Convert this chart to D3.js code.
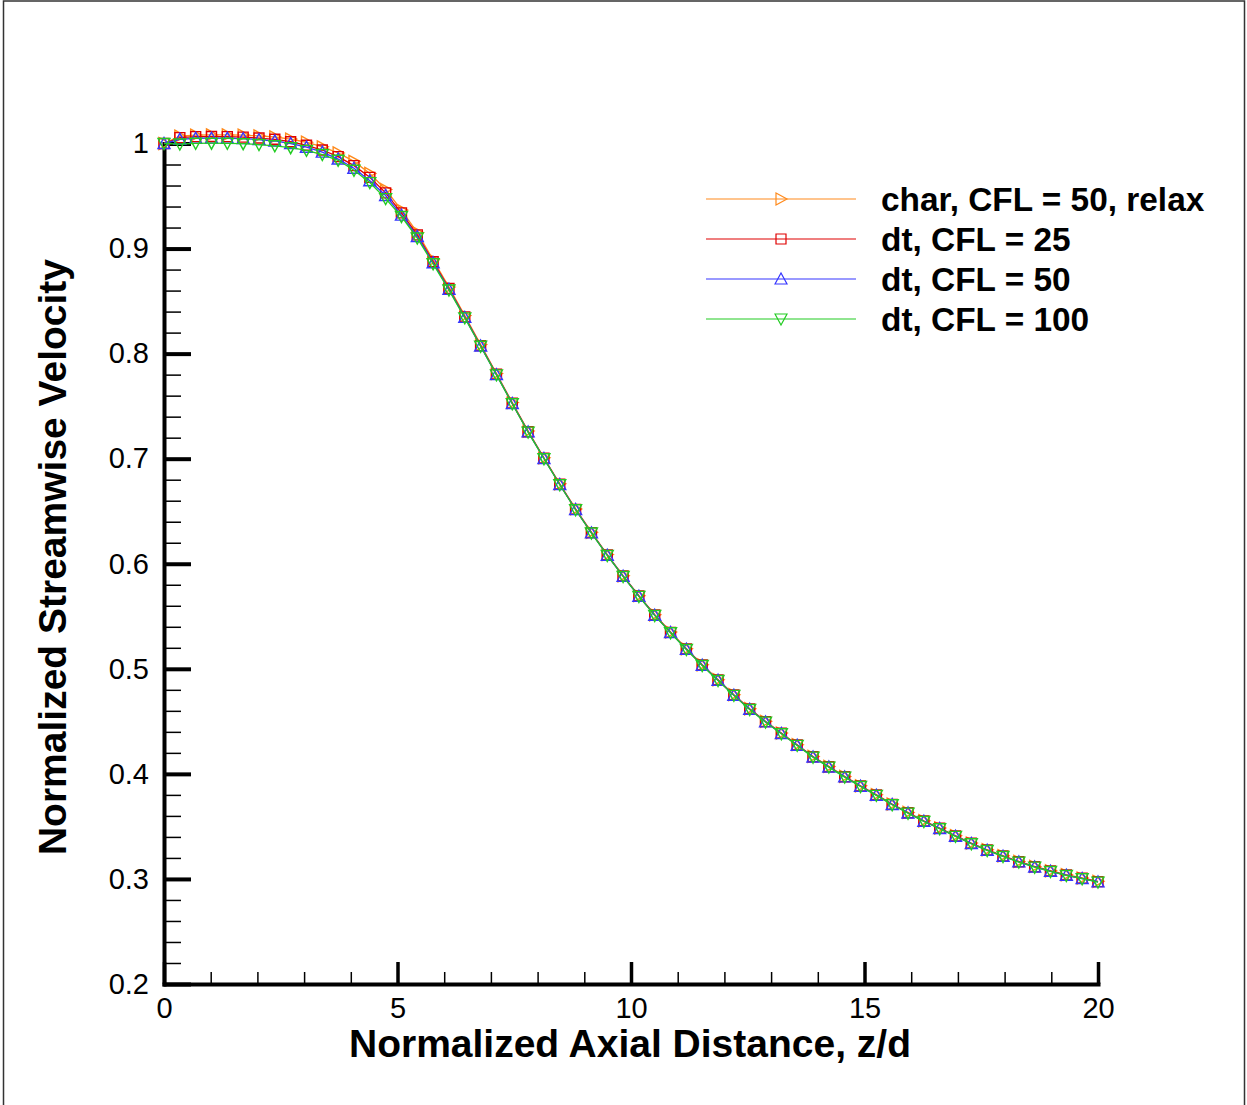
<!DOCTYPE html>
<html lang="en">
<head>
	<meta charset="UTF-8">
	<title>Normalized Streamwise Velocity</title>
	<script src="https://cdn.jsdelivr.net/npm/d3@7/dist/d3.min.js"></script>
	<style>
		body { margin:0; background:#fff; }
		svg { display:block; font-family:"Liberation Sans", Arial, Helvetica, sans-serif; }
	</style>
</head>
<body>
	<svg width="1247" height="1105"></svg>
	<script>
	// data
	var zValues = [0, 0.339, 0.678, 1.017, 1.356, 1.695, 2.034, 2.373, 2.712, 3.051,
		3.390, 3.729, 4.068, 4.407, 4.746, 5.085, 5.424, 5.763, 6.102, 6.441,
		6.780, 7.119, 7.458, 7.797, 8.136, 8.475, 8.814, 9.153, 9.492, 9.831,
		10.169, 10.508, 10.847, 11.186, 11.525, 11.864, 12.203, 12.542, 12.881, 13.220,
		13.559, 13.898, 14.237, 14.576, 14.915, 15.254, 15.593, 15.932, 16.271, 16.610,
		16.949, 17.288, 17.627, 17.966, 18.305, 18.644, 18.983, 19.322, 19.661, 20];

	var velChar50 = [1.0000, 1.0070, 1.0080, 1.0082, 1.0082, 1.0080, 1.0072, 1.0062, 1.0042, 1.0012,
		0.9968, 0.9910, 0.9830, 0.9715, 0.9562, 0.9366, 0.9152, 0.8893, 0.8634, 0.8362,
		0.8086, 0.7811, 0.7534, 0.7263, 0.7009, 0.6761, 0.6522, 0.6300, 0.6087, 0.5886,
		0.5696, 0.5515, 0.5350, 0.5191, 0.5039, 0.4896, 0.4754, 0.4620, 0.4500, 0.4389,
		0.4278, 0.4166, 0.4071, 0.3976, 0.3887, 0.3802, 0.3713, 0.3633, 0.3554, 0.3485,
		0.3412, 0.3342, 0.3278, 0.3221, 0.3167, 0.3119, 0.3078, 0.3040, 0.3009, 0.2977];

	var velDt25 = [1.0000, 1.0056, 1.0065, 1.0066, 1.0065, 1.0061, 1.0052, 1.0040, 1.0017, 0.9983,
		0.9938, 0.9875, 0.9789, 0.9678, 0.9530, 0.9340, 0.9130, 0.8875, 0.8620, 0.8350,
		0.8076, 0.7803, 0.7527, 0.7257, 0.7004, 0.6756, 0.6518, 0.6296, 0.6083, 0.5883,
		0.5693, 0.5512, 0.5347, 0.5188, 0.5036, 0.4893, 0.4751, 0.4617, 0.4497, 0.4386,
		0.4275, 0.4163, 0.4068, 0.3973, 0.3884, 0.3799, 0.3710, 0.3630, 0.3551, 0.3482,
		0.3409, 0.3339, 0.3275, 0.3218, 0.3164, 0.3116, 0.3075, 0.3037, 0.3006, 0.2974];

	var velDt50 = [1.0000, 1.0040, 1.0050, 1.0051, 1.0050, 1.0046, 1.0037, 1.0024, 1.0000, 0.9965,
		0.9918, 0.9852, 0.9765, 0.9645, 0.9505, 0.9318, 0.9115, 0.8865, 0.8612, 0.8345,
		0.8072, 0.7800, 0.7525, 0.7255, 0.7002, 0.6754, 0.6516, 0.6294, 0.6081, 0.5881,
		0.5691, 0.5510, 0.5345, 0.5186, 0.5034, 0.4891, 0.4749, 0.4615, 0.4495, 0.4384,
		0.4273, 0.4161, 0.4066, 0.3971, 0.3882, 0.3797, 0.3708, 0.3628, 0.3549, 0.3480,
		0.3407, 0.3337, 0.3273, 0.3216, 0.3162, 0.3114, 0.3073, 0.3035, 0.3004, 0.2972];

	var velDt100 = [1.0000, 0.9995, 1.0002, 1.0003, 1.0002, 0.9998, 0.9990, 0.9978, 0.9960, 0.9935,
		0.9895, 0.9840, 0.9745, 0.9628, 0.9475, 0.9305, 0.9100, 0.8855, 0.8605, 0.8340,
		0.8070, 0.7798, 0.7523, 0.7253, 0.7000, 0.6752, 0.6514, 0.6292, 0.6079, 0.5879,
		0.5689, 0.5508, 0.5343, 0.5184, 0.5032, 0.4889, 0.4747, 0.4613, 0.4493, 0.4382,
		0.4271, 0.4159, 0.4064, 0.3969, 0.3880, 0.3795, 0.3706, 0.3626, 0.3547, 0.3478,
		0.3405, 0.3335, 0.3271, 0.3214, 0.3160, 0.3112, 0.3071, 0.3033, 0.3002, 0.2970];

	var seriesNames = ["char, CFL = 50, relax", "dt, CFL = 25", "dt, CFL = 50", "dt, CFL = 100"];
	var seriesColors = ["#ff8a1c", "#e00000", "#3535ff", "#22cc22"];
	var seriesMarkers = ["right", "square", "up", "down"];
	var seriesValues = [velChar50, velDt25, velDt50, velDt100];

	var xMajorTicks = [0, 5, 10, 15, 20];
	var xTickLabels = ["0", "5", "10", "15", "20"];
	var yMajorTicks = [0.2, 0.3, 0.4, 0.5, 0.6, 0.7, 0.8, 0.9, 1.0];
	var yTickLabels = ["0.2", "0.3", "0.4", "0.5", "0.6", "0.7", "0.8", "0.9", "1"];

	var svg = d3.select("svg");

	var x = d3.scaleLinear().domain([0, 20]).range([164, 1098]);
	var y = d3.scaleLinear().domain([0.2, 1]).range([984, 143.5]);

	// frame
	svg.append("rect")
		.attr("x", 3.5).attr("y", 1)
		.attr("width", 1241).attr("height", 1130)
		.attr("fill", "none").attr("stroke", "#333").attr("stroke-width", 1.5);

	// minor ticks
	var xMinor = d3.axisBottom(x).tickValues(d3.range(0, 21)).tickSize(-12).tickFormat("");
	var gxm = svg.append("g").attr("transform", "translate(0,984)").call(xMinor);
	gxm.select(".domain").remove();
	gxm.selectAll("line").attr("stroke", "#000").attr("stroke-width", 1.5);

	var yMinor = d3.axisLeft(y).tickValues(d3.range(0.2, 1.001, 0.02)).tickSize(-17).tickFormat("");
	var gym = svg.append("g").attr("transform", "translate(164,0)").call(yMinor);
	gym.select(".domain").remove();
	gym.selectAll("line").attr("stroke", "#000").attr("stroke-width", 1.5);

	// major ticks + labels
	var xAxis = d3.axisBottom(x).tickValues(xMajorTicks).tickSizeInner(-22).tickSizeOuter(0)
		.tickPadding(13).tickFormat(function(d, i) { return xTickLabels[i]; });
	var gx = svg.append("g").attr("transform", "translate(0,984)").call(xAxis);
	gx.selectAll(".tick line").attr("stroke", "#000").attr("stroke-width", 3.5);
	gx.selectAll("text").attr("fill", "#000").attr("font-size", 29).attr("font-family", null);
	gx.select(".domain").attr("stroke", "#000").attr("stroke-width", 4).attr("stroke-linecap", "square");

	var yAxis = d3.axisLeft(y).tickValues(yMajorTicks).tickSizeInner(-27).tickSizeOuter(0)
		.tickPadding(15).tickFormat(function(d, i) { return yTickLabels[i]; });
	var gy = svg.append("g").attr("transform", "translate(164,0)").call(yAxis);
	gy.selectAll(".tick line").attr("stroke", "#000").attr("stroke-width", 4);
	gy.selectAll("text").attr("fill", "#000").attr("font-size", 29).attr("font-family", null);
	gy.select(".domain").attr("stroke", "#000").attr("stroke-width", 4).attr("stroke-linecap", "square");

	// axis titles
	svg.append("text")
		.attr("x", 630).attr("y", 1057)
		.attr("text-anchor", "middle")
		.attr("font-size", 39).attr("font-weight", "bold")
		.text("Normalized Axial Distance, z/d");
	svg.append("text")
		.attr("transform", "translate(66,557) rotate(-90)")
		.attr("text-anchor", "middle")
		.attr("font-size", 39).attr("font-weight", "bold")
		.text("Normalized Streamwise Velocity");

	function markerPath(type) {
		if (type == "square") return "M-5,-5H5V5H-5Z";
		if (type == "right") return "M-5,-6L6,0L-5,6Z";
		if (type == "up") return "M-6,5L0,-6L6,5Z";
		return "M-6,-5L0,6L6,-5Z";
	}

	// curves
	var line = d3.line()
		.x(function(d, i) { return x(zValues[i]); })
		.y(function(d) { return y(d); });

	seriesValues.forEach(function(vals, k) {
		var g = svg.append("g");
		g.append("path")
			.attr("d", line(vals))
			.attr("fill", "none")
			.attr("stroke", seriesColors[k])
			.attr("stroke-width", 1.3);
		g.selectAll("path.mk")
			.data(vals)
			.enter()
			.append("path")
			.attr("class", "mk")
			.attr("transform", function(d, i) { return "translate(" + x(zValues[i]) + "," + y(d) + ")"; })
			.attr("d", markerPath(seriesMarkers[k]))
			.attr("fill", "none")
			.attr("stroke", seriesColors[k])
			.attr("stroke-width", 1.4);
	});

	// legend
	var legend = svg.append("g");
	seriesNames.forEach(function(name, k) {
		var ly = 199 + k * 40;
		legend.append("line")
			.attr("x1", 706).attr("x2", 856)
			.attr("y1", ly).attr("y2", ly)
			.attr("stroke", seriesColors[k]).attr("stroke-width", 1.2);
		legend.append("path")
			.attr("transform", "translate(781," + ly + ")")
			.attr("d", markerPath(seriesMarkers[k]))
			.attr("fill", "none")
			.attr("stroke", seriesColors[k]).attr("stroke-width", 1.2);
		legend.append("text")
			.attr("x", 881).attr("y", ly + 12)
			.attr("font-size", 33.4).attr("font-weight", "bold")
			.text(name);
	});
	</script>
</body>
</html>
